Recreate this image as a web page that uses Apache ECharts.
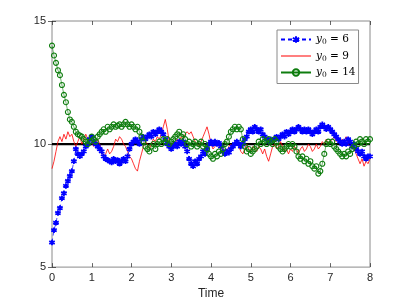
<!DOCTYPE html>
<html><head><meta charset="utf-8">
<script src="https://cdn.jsdelivr.net/npm/echarts@6/dist/echarts.min.js"></script>
<style>html,body{margin:0;padding:0;background:#fff}#c{width:407px;height:305px}</style>
</head><body><div id="c"></div>
<script>
var tStep = 0.05;
var xTicks = [0,1,2,3,4,5,6,7,8];
var yTicks = [5,10,15];
var seriesNames = ['y0 = 6','y0 = 9','y0 = 14'];
var equilibrium = 10;
var blue6 = [
6.0,6.5,6.8,7.2,7.4,7.8,8.0,8.3,8.5,8.7,
8.9,9.3,9.8,9.6,9.5,9.6,9.7,9.9,10.0,10.2,
10.3,10.1,10.0,9.9,9.8,9.7,9.5,9.4,9.35,9.3,
9.25,9.4,9.3,9.35,9.2,9.3,9.4,9.3,9.5,9.8,
10.0,10.1,10.2,10.1,10.0,10.2,10.3,10.2,10.3,10.4,
10.3,10.5,10.4,10.5,10.6,10.5,10.4,10.2,10.0,9.9,
9.8,9.9,10.0,9.9,10.1,10.0,10.1,9.9,9.7,9.4,
9.2,9.1,9.3,9.2,9.4,9.5,9.7,9.6,9.8,10.0,
10.1,10.0,10.1,10.0,10.05,9.9,9.7,9.6,9.7,9.65,
9.8,9.9,10.0,10.1,10.0,9.9,10.0,10.2,10.3,10.5,
10.6,10.5,10.7,10.6,10.5,10.6,10.4,10.3,10.2,10.1,
10.2,10.15,10.2,10.3,10.2,10.3,10.4,10.3,10.5,10.4,
10.5,10.6,10.5,10.6,10.7,10.6,10.5,10.6,10.5,10.6,
10.5,10.4,10.5,10.6,10.5,10.7,10.8,10.7,10.6,10.7,
10.6,10.5,10.4,10.3,10.2,10.1,10.0,10.1,10.0,10.2,
10.1,9.9,10.0,9.8,9.7,9.6,9.7,9.5,9.4,9.5,
9.5];
var red9 = [
9.0,9.3,9.7,10.1,10.3,10.1,10.4,10.2,10.5,10.3,
10.4,10.1,9.9,10.1,10.3,10.0,10.2,10.4,10.2,10.3,
10.1,9.9,10.0,10.2,10.0,9.7,9.5,9.6,9.8,9.6,
9.7,9.9,10.2,10.1,10.3,10.2,10.0,9.9,9.7,9.5,
9.4,9.2,9.0,8.9,9.3,9.6,9.9,10.1,10.0,9.8,
10.0,10.2,10.1,10.3,10.2,10.4,10.7,11.0,10.6,10.1,
9.9,10.1,10.0,10.2,10.1,10.3,10.2,10.4,10.5,10.4,
10.5,10.3,10.1,10.0,9.9,10.1,10.3,10.5,10.7,10.4,
10.0,9.8,9.9,10.1,9.9,10.0,9.8,9.6,9.7,9.9,
10.0,9.8,10.0,10.1,9.9,9.7,9.6,9.8,10.0,9.8,
9.7,9.9,9.8,9.7,9.9,9.8,9.6,9.8,9.5,9.3,
9.6,9.9,10.0,9.8,9.9,10.1,9.9,9.7,9.8,9.6,
9.8,9.7,9.9,9.8,9.6,9.8,9.9,9.7,9.8,10.0,
9.9,9.7,9.8,10.0,9.8,9.9,10.1,10.0,10.2,10.0,
10.1,10.2,10.3,10.1,10.2,10.0,10.2,10.1,10.3,10.0,
9.9,10.0,9.8,9.6,9.4,9.2,9.4,9.1,9.3,9.2,
9.4];
var green14 = [
14.0,13.6,13.3,13.0,12.8,12.4,12.0,11.7,11.3,11.0,
10.9,10.7,10.5,10.4,10.35,10.3,10.2,10.1,10.0,10.1,
10.3,10.2,10.1,10.3,10.4,10.5,10.6,10.5,10.7,10.6,
10.7,10.8,10.7,10.75,10.8,10.7,10.8,10.9,10.8,10.7,
10.8,10.7,10.6,10.7,10.5,10.3,10.1,9.9,9.8,9.7,
9.9,10.0,9.8,10.0,10.1,10.0,10.2,10.1,10.2,10.0,
10.1,10.2,10.3,10.4,10.5,10.3,10.4,10.2,10.0,10.1,
9.9,10.0,10.1,9.9,10.0,10.1,9.9,10.0,9.8,9.6,
9.5,9.4,9.6,9.5,9.7,9.6,9.8,10.0,10.1,10.3,
10.5,10.6,10.7,10.6,10.7,10.6,10.2,9.9,9.7,9.8,
9.6,9.7,9.8,9.9,10.1,10.0,10.2,10.1,10.0,10.2,
10.1,10.0,10.2,10.1,9.9,9.8,9.7,9.8,9.9,10.0,
9.9,10.0,9.9,9.7,9.5,9.4,9.5,9.3,9.4,9.2,
9.3,9.1,9.0,9.1,8.8,8.9,9.2,9.6,10.0,10.1,
10.0,10.1,9.9,9.8,9.7,9.6,9.5,9.6,9.5,9.7,
9.6,9.8,9.9,10.1,10.0,10.2,10.1,10.0,10.2,10.1,
10.2];

function pairs(arr){ return arr.map(function(v,i){ return [+(i*tStep).toFixed(2), v]; }); }

var chart = echarts.init(document.getElementById('c'), null, {renderer:'canvas'});
var axisCol = '#262626';
var asterisk = 'path://M0,-5L0,5M-4.33,-2.5L4.33,2.5M-4.33,2.5L4.33,-2.5';
var redLineIcon = 'path://M0,0L0.01,0L0,0ZM0,3.6L30,3.6L30,4.4L0,4.4ZM29.99,8L30,8L30,7.99Z';
var richText = {
  i:{fontFamily:'DejaVu Serif',fontStyle:'italic',fontSize:10.5,color:'#000'},
  s:{fontFamily:'DejaVu Serif',fontSize:7.5,color:'#000',verticalAlign:'bottom',padding:[6,0,0,0]},
  n:{fontFamily:'DejaVu Serif',fontSize:10.5,color:'#000'}
};
chart.setOption({
  animation:false,
  backgroundColor:'#fff',
  grid:{left:52,right:37,top:21,bottom:36,show:true,borderColor:'#8a8a8a',borderWidth:1},
  legend:{
    orient:'vertical', left:277, top:30, itemWidth:30, itemHeight:8, itemGap:4,
    padding:[4,3,4,3], backgroundColor:'#fff', borderColor:'#8a8a8a', borderWidth:1,
    data:[{name:seriesNames[0]},{name:seriesNames[1],icon:redLineIcon},{name:seriesNames[2]}],
    formatter:function(n){ var p=n.split(' = '); return '{i|y}{s|0}{n| = '+p[1]+'}'; },
    textStyle:{rich:richText}
  },
  xAxis:[{
    type:'value', min:0, max:8, interval:1,
    axisLine:{show:false}, splitLine:{show:false},
    axisTick:{show:true,inside:true,length:4,lineStyle:{color:axisCol,width:0.7}},
    axisLabel:{color:axisCol,fontFamily:'Liberation Sans',fontSize:11,margin:5,
      customValues:xTicks},
    name:'Time', nameLocation:'middle', nameGap:19,
    nameTextStyle:{color:axisCol,fontFamily:'Liberation Sans',fontSize:12}
  },{
    type:'value', position:'top', min:0, max:8, interval:1,
    axisLine:{show:false}, splitLine:{show:false}, axisLabel:{show:false},
    axisTick:{show:true,inside:true,length:4,lineStyle:{color:axisCol,width:0.7}}
  }],
  yAxis:[{
    type:'value', min:5, max:15, interval:5,
    axisLine:{show:false}, splitLine:{show:false},
    axisTick:{show:true,inside:true,length:4,lineStyle:{color:axisCol,width:0.7}},
    axisLabel:{color:axisCol,fontFamily:'Liberation Sans',fontSize:11,margin:6,
      customValues:yTicks}
  },{
    type:'value', position:'right', min:5, max:15, interval:5,
    axisLine:{show:false}, splitLine:{show:false}, axisLabel:{show:false},
    axisTick:{show:true,inside:true,length:4,lineStyle:{color:axisCol,width:0.7}}
  }],
  series:[
    {name:'eq', type:'line', data:[[0,equilibrium],[8,equilibrium]], symbol:'none',
     lineStyle:{color:'#000',width:2.2}, z:1, silent:true},
    {name:seriesNames[0], type:'line', data:pairs(blue6), symbol:asterisk, symbolSize:5.5,
     showAllSymbol:true,
     itemStyle:{color:'#0000ff',borderColor:'#0000ff',borderWidth:1.8},
     lineStyle:{color:'#0000ff',width:0.7,type:[4,3]}, z:3},
    {name:seriesNames[1], type:'line', data:pairs(red9), symbol:'none',
     itemStyle:{color:'#ff0000'},
     lineStyle:{color:'#ff0000',width:0.8}, z:2},
    {name:seriesNames[2], type:'line', data:pairs(green14), symbol:'circle', symbolSize:5,
     showAllSymbol:true,
     itemStyle:{color:'rgba(255,255,255,0)',borderColor:'#0e7d0e',borderWidth:1.1},
     lineStyle:{color:'#0e7d0e',width:0.6}, z:4}
  ]
});
</script></body></html>
